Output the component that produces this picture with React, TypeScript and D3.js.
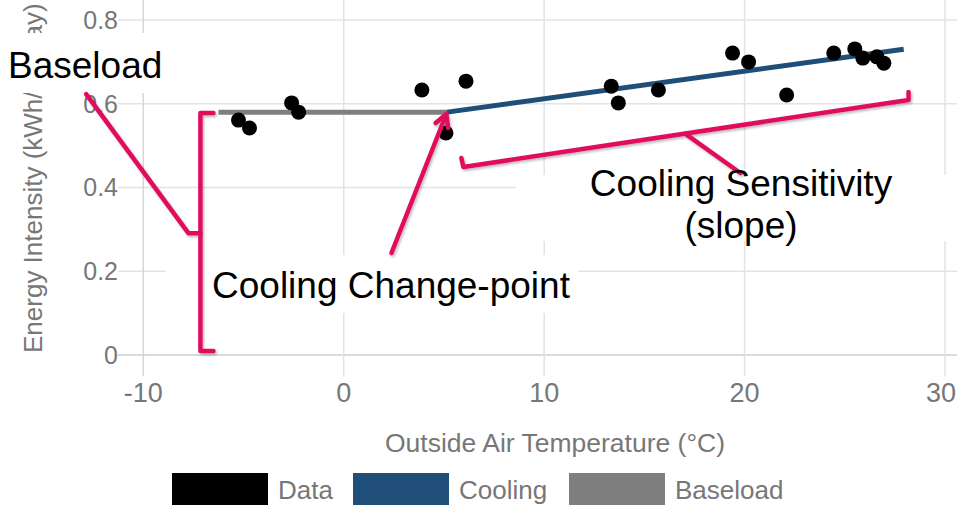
import React from "react";
import * as d3 from "d3";

// ---- data ----
const xTicks = [-10, 0, 10, 20, 30];
const yTicks = [0, 0.2, 0.4, 0.6, 0.8];
const yTickLabels = ["0", "0.2", "0.4", "0.6", "0.8"];

const dataTemp = [-5.25, -4.7, -2.6, -2.25, 3.9, 6.1, 5.1, 13.35, 13.7, 15.7, 19.4, 20.2, 22.1, 24.45, 25.5, 25.9, 26.6, 26.95];
const dataIntensity = [0.561, 0.542, 0.602, 0.58, 0.633, 0.654, 0.53, 0.642, 0.602, 0.633, 0.721, 0.7, 0.621, 0.721, 0.731, 0.709, 0.712, 0.697];

const baseloadTemp = [-6.25, 5.16];
const baseloadValue = [0.58, 0.58];
const coolingTemp = [5.16, 27.94];
const coolingValue = [0.58, 0.73];

const legendLabels = ["Data", "Cooling", "Baseload"];
const legendColors = ["#000000", "#1f4e79", "#7f7f7f"];

// annotation paths (in data units)
const baseBracket: [number, number][] = [[-6.5, 0.578], [-7.15, 0.578], [-7.15, 0.0096], [-6.5, 0.0096]];
const basePointer: [number, number][] = [[-7.15, 0.291], [-7.75, 0.291], [-12.85, 0.623]];
const changeArrow: [number, number][] = [[2.38, 0.2436], [5.12, 0.5755]];
const slopeBracket: [number, number][] = [[5.87, 0.4704], [5.97, 0.449], [28.18, 0.609], [28.18, 0.628]];
const slopePointer: [number, number][] = [[17.05, 0.528], [19.79, 0.4346]];

const W = 957;
const H = 505;
const PINK = "#e0105e";
const AXIS_GRAY = "#777";
const FONT = "'Liberation Sans', Arial, sans-serif";

export default function App() {
  const x = d3.scaleLinear().domain([-10, 30]).range([143.3, 945]);
  const y = d3.scaleLinear().domain([0, 0.8]).range([355, 20]);
  const line = d3
    .line<[number, number]>()
    .x((d) => x(d[0]))
    .y((d) => y(d[1]));

  const baseData: [number, number][] = baseloadTemp.map((t, i) => [t, baseloadValue[i]]);
  const coolData: [number, number][] = coolingTemp.map((t, i) => [t, coolingValue[i]]);

  // arrowhead for change-point arrow
  const [a0, a1] = changeArrow;
  const tx = x(a1[0]);
  const ty = y(a1[1]);
  const ang = Math.atan2(ty - y(a0[1]), tx - x(a0[0]));
  const hl = 14;
  const spread = 0.5;
  const barb1 = [tx - hl * Math.cos(ang - spread), ty - hl * Math.sin(ang - spread)];
  const barb2 = [tx - hl * Math.cos(ang + spread), ty - hl * Math.sin(ang + spread)];

  const legendX = [172, 353, 569];

  return (
    <svg
      width={W}
      height={H}
      style={{ position: "absolute", left: 0, top: 0, background: "#fff" }}
      fontFamily={FONT}
    >
      <defs>
        <filter id="sh" x="-20%" y="-20%" width="140%" height="140%">
          <feDropShadow dx="1.5" dy="2" stdDeviation="1.2" floodColor="#000" floodOpacity="0.25" />
        </filter>
      </defs>
      <rect x={0} y={0} width={W} height={H} fill="#fff" />

      {/* grid */}
      {yTicks.map((t, i) => (
        <line
          key={"hy" + i}
          x1={118}
          x2={W}
          y1={y(t)}
          y2={y(t)}
          stroke={t === 0 ? "#cfcfcf" : "#e3e3e3"}
          strokeWidth={1.5}
        />
      ))}
      {xTicks.map((t, i) => (
        <line
          key={"vx" + i}
          x1={x(t)}
          x2={x(t)}
          y1={0}
          y2={376}
          stroke={t === -10 ? "#d6d6d6" : "#e3e3e3"}
          strokeWidth={1.5}
        />
      ))}

      {/* tick labels */}
      {yTicks.map((t, i) => (
        <text
          key={"yl" + i}
          x={118}
          y={y(t)}
          dy="0.35em"
          textAnchor="end"
          fontSize={25}
          fill={AXIS_GRAY}
        >
          {yTickLabels[i]}
        </text>
      ))}
      {xTicks.map((t, i) => {
        const last = i === xTicks.length - 1;
        return (
          <text
            key={"xl" + i}
            x={last ? W - 1 : x(t)}
            y={402}
            textAnchor={last ? "end" : "middle"}
            fontSize={27}
            fill={AXIS_GRAY}
          >
            {String(t)}
          </text>
        );
      })}

      {/* axis titles */}
      <text x={555} y={452} textAnchor="middle" fontSize={26.5} fill={AXIS_GRAY}>
        Outside Air Temperature (°C)
      </text>
      <text
        transform="translate(42,353) rotate(-90)"
        x={0}
        y={0}
        textAnchor="start"
        fontSize={26}
        fill={AXIS_GRAY}
      >
        Energy Intensity (kWh/m²/day)
      </text>

      {/* model lines */}
      <path d={line(baseData) || ""} fill="none" stroke="#7f7f7f" strokeWidth={5} />
      <path d={line(coolData) || ""} fill="none" stroke="#1f4e79" strokeWidth={5} />

      {/* data points */}
      {dataTemp.map((t, i) => (
        <circle key={"p" + i} cx={x(t)} cy={y(dataIntensity[i])} r={7.5} fill="#000" />
      ))}

      {/* legend */}
      {legendLabels.map((lab, i) => (
        <g key={"lg" + i}>
          <rect x={legendX[i]} y={473} width={96} height={32} fill={legendColors[i]} />
          <text x={legendX[i] + 106} y={499} fontSize={26} fill={AXIS_GRAY}>
            {lab}
          </text>
        </g>
      ))}

      {/* annotation white boxes */}
      <rect x={0} y={33} width={168} height={60} fill="#fff" />
      <rect x={166} y={255} width={412} height={58} fill="#fff" />
      <rect x={516} y={175} width={441} height={66} fill="#fff" />

      {/* annotation strokes */}
      <g
        fill="none"
        stroke={PINK}
        strokeWidth={4.5}
        strokeLinejoin="round"
        strokeLinecap="round"
        filter="url(#sh)"
      >
        <path d={line(baseBracket) || ""} />
        <path d={line(basePointer) || ""} />
        <path d={line(changeArrow) || ""} />
        <polyline points={`${barb1[0]},${barb1[1]} ${tx},${ty} ${barb2[0]},${barb2[1]}`} />
        <path d={line(slopeBracket) || ""} />
        <path d={line(slopePointer) || ""} />
      </g>

      {/* annotation texts */}
      <g fontSize={37} fill="#000">
        <text x={8} y={78}>Baseload</text>
        <text x={212} y={298}>Cooling Change-point</text>
        <text x={741} y={196} textAnchor="middle">Cooling Sensitivity</text>
        <text x={741} y={238} textAnchor="middle">(slope)</text>
      </g>
    </svg>
  );
}
